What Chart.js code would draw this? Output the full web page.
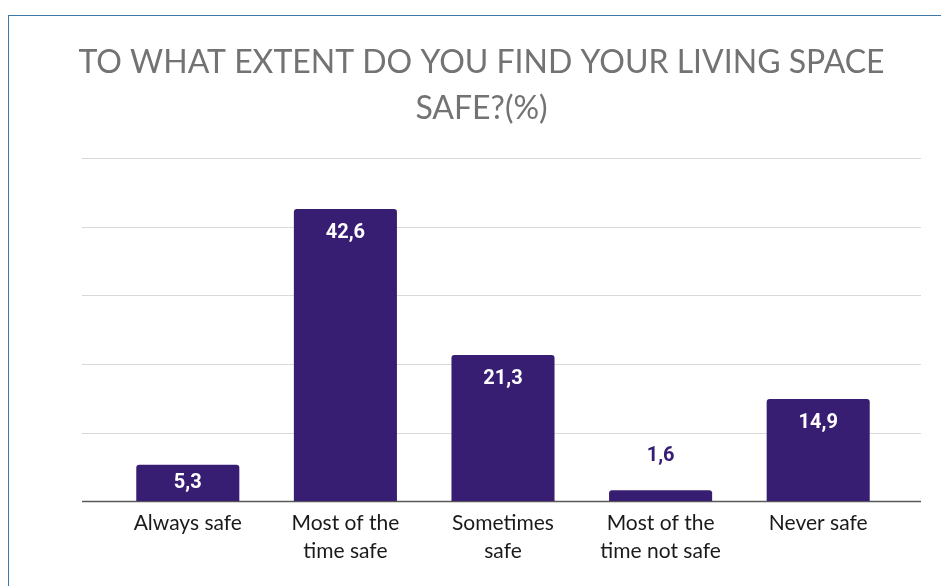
<!DOCTYPE html>
<html>
<head>
  <meta charset="utf-8">
  <title>Living space safety</title>
  <script src="https://cdn.jsdelivr.net/npm/chart.js"></script>
  <style>
    * { margin: 0; padding: 0; box-sizing: border-box; }
    html, body { width: 941px; height: 586px; overflow: hidden; background: #fff; }
    #frame {
      position: absolute; left: 8px; top: 15px; right: -10px; bottom: -10px;
      border-left: 1.5px solid #3c77a8; border-top: 1.5px solid #3c77a8;
    }
    #wrap { position: absolute; left: 0; top: 0; width: 941px; height: 586px; }
  </style>
</head>
<body>
  <div id="frame"></div>
  <div id="wrap"><canvas id="grafik"></canvas></div>

  <script>
    // categories and percentages
    const kategori = [
      ['Always safe'],
      ['Most of the', 'time safe'],
      ['Sometimes', 'safe'],
      ['Most of the', 'time not safe'],
      ['Never safe']
    ];
    const nilai = [5.3, 42.6, 21.3, 1.6, 14.9];
    const judul = ['TO WHAT EXTENT DO YOU FIND YOUR LIVING SPACE', 'SAFE?(%)'];

    const ungu = '#381e73';

    // horizontal grid lines spanning the full plot width, plus baseline
    const gridPlugin = {
      id: 'gridLebar',
      beforeDatasetsDraw(chart) {
        const { ctx } = chart;
        const y = chart.scales.y;
        const x0 = 82, x1 = 921;
        ctx.save();
        y.ticks.forEach(t => {
          const py = Math.round(y.getPixelForValue(t.value)) + 0.5;
          ctx.beginPath();
          ctx.strokeStyle = t.value === 0 ? '#595959' : '#d9d9d9';
          ctx.lineWidth = t.value === 0 ? 1.5 : 1;
          ctx.moveTo(x0, py);
          ctx.lineTo(x1, py);
          ctx.stroke();
        });
        ctx.restore();
      }
    };

    // value labels: inside the bar, or above it when the bar is too short
    const labelPlugin = {
      id: 'labelNilai',
      afterDatasetsDraw(chart) {
        const { ctx } = chart;
        const meta = chart.getDatasetMeta(0);
        ctx.save();
        ctx.font = 'bold 20px Roboto';
        ctx.textAlign = 'center';
        ctx.textBaseline = 'middle';
        meta.data.forEach((bar, i) => {
          const teks = nilai[i].toString().replace('.', ',');
          const tinggi = bar.base - bar.y;
          if (tinggi < 20) {
            ctx.fillStyle = ungu;
            ctx.fillText(teks, bar.x, bar.y - 34);
          } else {
            ctx.fillStyle = '#ffffff';
            ctx.fillText(teks, bar.x, bar.y + Math.min(24, tinggi / 2));
          }
        });
        ctx.restore();
      }
    };

    // invisible side axes that only reserve room
    const ruang = (lebar) => ({
      display: true,
      grid: { display: false, drawTicks: false },
      border: { display: false },
      ticks: { display: false },
      afterFit(s) { s.width = lebar; }
    });

    const ctx = document.getElementById('grafik').getContext('2d');
    new Chart(ctx, {
      type: 'bar',
      data: {
        labels: kategori,
        datasets: [{
          data: nilai,
          backgroundColor: ungu,
          borderRadius: { topLeft: 3, topRight: 3 },
          borderSkipped: 'bottom',
          barPercentage: 0.654,
          categoryPercentage: 1
        }]
      },
      options: {
        responsive: true,
        maintainAspectRatio: false,
        animation: false,
        layout: { padding: { left: 22, right: 0, top: 0, bottom: 13 } },
        scales: {
          y: Object.assign(ruang(87), {
            position: 'left',
            min: 0,
            max: 50,
            ticks: { display: false, stepSize: 10 }
          }),
          kanan: Object.assign(ruang(44), { position: 'right' }),
          x: {
            grid: { display: false, drawTicks: false },
            border: { display: false },
            ticks: {
              color: '#1a1a1a',
              font: { family: 'Lato', size: 21, lineHeight: 1.33 },
              padding: 8,
              maxRotation: 0,
              autoSkip: false
            }
          }
        },
        plugins: {
          legend: { display: false },
          tooltip: { enabled: false },
          title: {
            display: true,
            text: judul,
            color: '#737373',
            font: { family: 'Lato', size: 32, weight: 'normal', lineHeight: 1.44 },
            padding: { top: 40, bottom: 26 }
          }
        }
      },
      plugins: [gridPlugin, labelPlugin]
    });
  </script>
</body>
</html>
